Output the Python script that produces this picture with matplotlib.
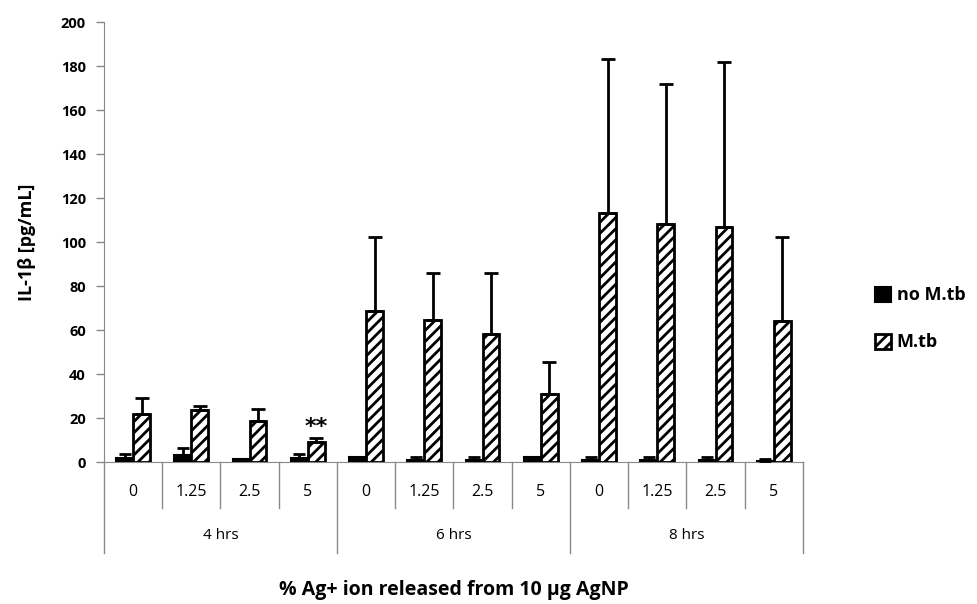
import numpy as np
import matplotlib
matplotlib.use("Agg")
from matplotlib import pyplot as plt
from matplotlib.patches import Patch

groups = ["4 hrs", "6 hrs", "8 hrs"]
doses = ["0", "1.25", "2.5", "5"]

no_mtb = [2, 3, 1.5, 2, 2.5, 1, 1, 2.5, 1, 1, 1, 0.5]
no_mtb_err = [1.5, 3.5, 0, 1.5, 0, 1.5, 1.5, 0, 1.5, 1.5, 1.5, 1]
mtb = [22, 23.5, 18.5, 9, 68.5, 64.5, 58, 31, 113, 108, 107, 64]
mtb_err = [7, 2, 5.5, 2, 34, 21.5, 28, 14.5, 70, 64, 75, 38.5]

plt.rcParams['font.family'] = ['Open Sans', 'DejaVu Sans']
plt.rcParams['hatch.linewidth'] = 2.0

fig = plt.figure(figsize=(9.78, 6.04), dpi=100)
ax = fig.add_axes([0.1063, 0.235, 0.7147, 0.7285])

n = len(no_mtb)
x = np.arange(n) + 0.5
w = 0.29

ax.bar(x - w / 2, no_mtb, w, color="black", edgecolor="black", linewidth=1.5,
       yerr=[np.zeros(n), no_mtb_err], capsize=4,
       error_kw=dict(elinewidth=2, capthick=2, ecolor="black"), zorder=3)
ax.bar(x + w / 2, mtb, w, color="white", edgecolor="black", linewidth=2,
       hatch="///", yerr=[np.zeros(n), mtb_err], capsize=5,
       error_kw=dict(elinewidth=2, capthick=2, ecolor="black"), zorder=3)

ax.text(x[3] + w / 2, mtb[3] + mtb_err[3] + 0.5, "**", ha="center", va="bottom",
        fontsize=16, fontweight="bold", family="DejaVu Sans")

ax.set_xlim(0, n)
ax.set_ylim(0, 200)
ax.set_yticks(range(0, 201, 20))
ax.tick_params(axis="y", labelsize=10.5, color="#888888", length=6, width=1, pad=7)
for lab in ax.get_yticklabels():
    lab.set_fontweight("bold")
ax.set_xticks([])
for s in ["top", "right"]:
    ax.spines[s].set_visible(False)
ax.spines["left"].set_color("#888888")
ax.spines["bottom"].set_color("#888888")

trans = ax.get_xaxis_transform()
for i in range(n):
    ax.text(x[i], -0.068, doses[i % 4], transform=trans, ha="center", va="center",
            fontsize=11.5)
for i in range(n + 1):
    bottom = -0.207 if i % 4 == 0 else -0.105
    ax.plot([i, i], [0, bottom], transform=trans, color="#888888", lw=1,
            clip_on=False)
for g, name in enumerate(groups):
    ax.text(g * 4 + 2, -0.166, name, transform=trans, ha="center", va="center",
            fontsize=11)

ax.set_ylabel("IL-1β [pg/mL]", fontsize=13, fontweight="bold", labelpad=18)
fig.text(0.4636, 0.023, "% Ag+ ion released from 10 µg AgNP", ha="center",
         va="center", fontsize=14, fontweight="bold")

handles = [Patch(facecolor="black", edgecolor="black", linewidth=1.5),
           Patch(facecolor="white", edgecolor="black", linewidth=2, hatch="///")]
fig.legend(handles, ["no M.tb", "M.tb"], loc="center left",
           bbox_to_anchor=(0.878, 0.472), frameon=False, handlelength=0.9,
           handleheight=0.9, handletextpad=0.3, labelspacing=1.6,
           prop=dict(size=13, weight="bold"))

fig.savefig("out.png", dpi=100)
